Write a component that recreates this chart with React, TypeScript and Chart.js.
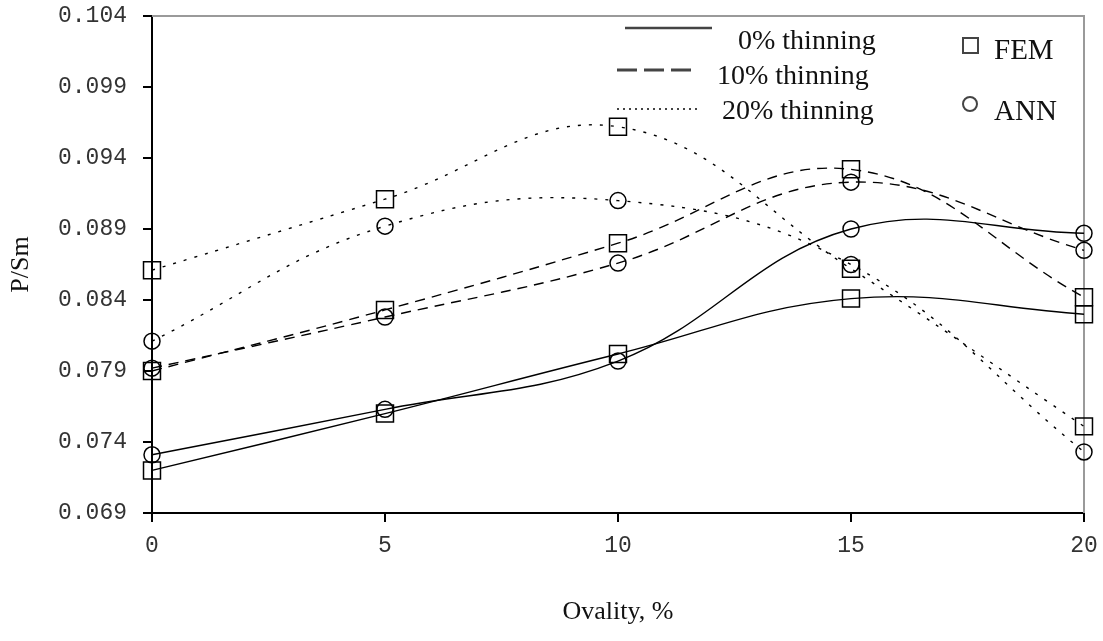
import React, { useEffect, useRef } from "react";
import { Chart, registerables } from "chart.js";
Chart.register(...registerables);

const ovality = [0, 5, 10, 15, 20];
const fem0 = [0.072, 0.076, 0.0802, 0.0841, 0.083];
const ann0 = [0.0731, 0.0763, 0.0797, 0.089, 0.0887];
const fem10 = [0.079, 0.0833, 0.088, 0.0932, 0.0842];
const ann10 = [0.0792, 0.0828, 0.0866, 0.0923, 0.0875];
const fem20 = [0.0861, 0.0911, 0.0962, 0.0862, 0.0751];
const ann20 = [0.0811, 0.0892, 0.091, 0.0865, 0.0733];
const yTicks = [0.069, 0.074, 0.079, 0.084, 0.089, 0.094, 0.099, 0.104];
const xTicks = [0, 5, 10, 15, 20];
const lineLabels = ["0% thinning", "10% thinning", "20% thinning"];
const markerLabels = ["FEM", "ANN"];

const SERIF = "'Liberation Serif', 'Times New Roman', serif";
const MONO = "'Liberation Mono', 'Courier New', monospace";

const DASH10 = [10, 7];
const DOT20 = [3, 8];

function pts(vals: number[]) {
  return vals.map((v, i) => ({ x: ovality[i], y: v }));
}

function ds(label: string, vals: number[], dash: number[], style: string) {
  return {
    label,
    data: pts(vals),
    borderColor: "#000",
    borderWidth: 1.4,
    borderDash: dash,
    backgroundColor: "rgba(0,0,0,0)",
    pointStyle: style,
    pointRadius: style === "rect" ? 12 : 8,
    pointBorderWidth: 1.5,
    pointBorderColor: "#000",
    pointBackgroundColor: "rgba(0,0,0,0)",
    tension: 0.4,
    fill: false,
    clip: false,
  };
}

const framePlugin = {
  id: "frameAndLegend",
  beforeDatasetsDraw(chart: any) {
    const { ctx, chartArea } = chart;
    ctx.save();
    ctx.strokeStyle = "#9a9a9a";
    ctx.lineWidth = 2;
    ctx.beginPath();
    ctx.moveTo(chartArea.left, chartArea.top);
    ctx.lineTo(chartArea.right, chartArea.top);
    ctx.lineTo(chartArea.right, chartArea.bottom);
    ctx.stroke();
    ctx.restore();
  },
  afterDraw(chart: any) {
    const { ctx } = chart;
    ctx.save();
    ctx.strokeStyle = "#444";
    const samples = [
      { x1: 625, x2: 712, y: 28, w: 2.5, dash: [] as number[], tx: 738, ty: 42 },
      { x1: 617, x2: 697, y: 70, w: 3, dash: [20, 7], tx: 717, ty: 77 },
      { x1: 617, x2: 700, y: 109, w: 2, dash: [2, 4], tx: 722, ty: 112 },
    ];
    samples.forEach((s, i) => {
      ctx.lineWidth = s.w;
      ctx.setLineDash(s.dash);
      ctx.beginPath();
      ctx.moveTo(s.x1, s.y);
      ctx.lineTo(s.x2, s.y);
      ctx.stroke();
      ctx.setLineDash([]);
      ctx.fillStyle = "#111";
      ctx.font = `28px ${SERIF}`;
      ctx.textBaseline = "middle";
      ctx.textAlign = "left";
      ctx.fillText(lineLabels[i], s.tx, s.ty);
    });
    ctx.lineWidth = 2;
    ctx.strokeStyle = "#444";
    ctx.strokeRect(963, 38, 15, 15);
    ctx.beginPath();
    ctx.arc(970, 104, 7, 0, Math.PI * 2);
    ctx.stroke();
    ctx.fillStyle = "#111";
    ctx.font = `29px ${SERIF}`;
    ctx.textBaseline = "middle";
    ctx.fillText(markerLabels[0], 994, 51);
    ctx.fillText(markerLabels[1], 994, 112);
    ctx.restore();
  },
};

export default function App() {
  const ref = useRef<HTMLCanvasElement | null>(null);
  useEffect(() => {
    if (!ref.current) return;
    const chart = new Chart(ref.current, {
      type: "line",
      data: {
        datasets: [
          ds("FEM 0%", fem0, [], "rect"),
          ds("ANN 0%", ann0, [], "circle"),
          ds("FEM 10%", fem10, DASH10, "rect"),
          ds("ANN 10%", ann10, DASH10, "circle"),
          ds("FEM 20%", fem20, DOT20, "rect"),
          ds("ANN 20%", ann20, DOT20, "circle"),
        ] as any,
      },
      options: {
        animation: false,
        responsive: false,
        layout: { padding: { left: 0, right: 19, top: 16, bottom: 0 } },
        plugins: { legend: { display: false }, tooltip: { enabled: false } },
        scales: {
          x: {
            type: "linear",
            min: 0,
            max: 20,
            afterBuildTicks: (s: any) => {
              s.ticks = xTicks.map((v) => ({ value: v }));
            },
            afterFit: (s: any) => {
              s.height = 128;
              s.paddingLeft = 0;
              s.paddingRight = 0;
            },
            ticks: {
              font: { family: MONO, size: 23 },
              color: "#333",
              padding: 10,
              maxRotation: 0,
            },
            grid: {
              drawOnChartArea: false,
              drawTicks: true,
              tickLength: 9,
              color: "#000",
              tickColor: "#000",
              lineWidth: 2,
            },
            border: { display: true, color: "#000", width: 2 },
            title: {
              display: true,
              text: "Ovality, %",
              font: { family: SERIF, size: 26 },
              color: "#111",
              padding: { top: 4, bottom: 13 },
            },
          },
          y: {
            type: "linear",
            min: 0.069,
            max: 0.104,
            afterBuildTicks: (s: any) => {
              s.ticks = yTicks.map((v) => ({ value: v }));
            },
            afterFit: (s: any) => {
              s.width = 152;
              s.paddingTop = 0;
              s.paddingBottom = 0;
            },
            ticks: {
              font: { family: MONO, size: 23 },
              color: "#333",
              padding: 16,
              callback: (v: any) => Number(v).toFixed(3),
            },
            grid: {
              drawOnChartArea: false,
              drawTicks: true,
              tickLength: 9,
              color: "#000",
              tickColor: "#000",
              lineWidth: 2,
            },
            border: { display: true, color: "#000", width: 2 },
            title: {
              display: true,
              text: "P/Sm",
              font: { family: SERIF, size: 26 },
              color: "#111",
              padding: { top: 6, bottom: 0 },
            },
          },
        },
      },
      plugins: [framePlugin],
    } as any);
    return () => chart.destroy();
  }, []);
  return (
    <div style={{ position: "absolute", left: 0, top: 0, width: 1103, height: 641, background: "#fff" }}>
      <canvas ref={ref} width={1103} height={641} style={{ display: "block" }} />
    </div>
  );
}
